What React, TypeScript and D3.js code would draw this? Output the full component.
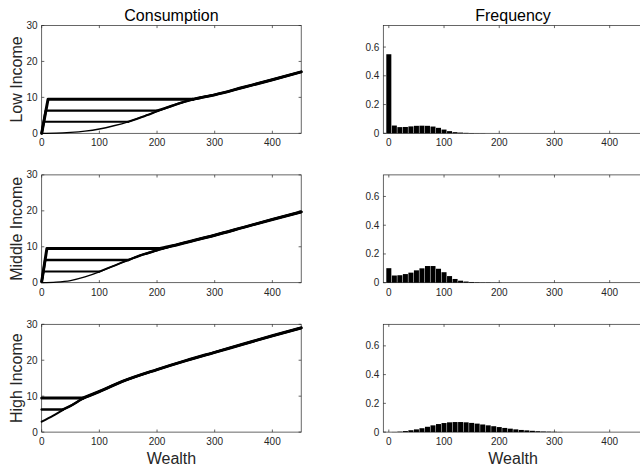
import React from 'react';
import * as d3 from 'd3';

const rowLabels = ['Low Income', 'Middle Income', 'High Income'];
const wealthTicks = [0, 100, 200, 300, 400];
const consTicks = [0, 10, 20, 30];
const freqTicks = [0, 0.2, 0.4, 0.6];

// consumption: smooth policy curve + flat segments that merge into it
const lowCurve = [[0, 0], [25, 0.05], [50, 0.25], [75, 0.6], [100, 1.2], [125, 2.1], [150, 3.2], [175, 4.6], [200, 6.1], [225, 7.6], [250, 8.9], [275, 9.9], [300, 10.7], [350, 12.8], [400, 14.9], [450, 17.1]];
const lowOrigin = [0, 0, 0];
const lowKinks = [3.5, 7, 11];
const lowLevels = [3.2, 6.3, 9.5];
const lowFlatEnds = [150, 200, 262];

const midCurve = [[0, 0], [25, 0.15], [50, 0.6], [75, 1.6], [100, 3.0], [125, 4.7], [150, 6.3], [175, 7.8], [200, 9.0], [225, 10.2], [250, 11.2], [300, 13.2], [350, 15.4], [400, 17.6], [450, 19.7]];
const midOrigin = [0.3, 0.3, 0.3];
const midKinks = [3, 6, 9];
const midLevels = [3.1, 6.3, 9.5];
const midFlatEnds = [100, 150, 205];

const highCurve = [[0, 2.9], [20, 4.6], [35, 6.0], [50, 7.3], [70, 9.2], [100, 11.3], [140, 14.1], [200, 17.4], [250, 19.9], [300, 22.2], [350, 24.5], [400, 26.8], [450, 29.0]];
const highOrigin = [6.3, 9.5];
const highKinks = [0, 0];
const highLevels = [6.3, 9.5];
const highFlatEnds = [37, 72];

// wealth distribution, bins of width 10 centred at 0, 10, 20, ...
const binWidth = 10;
const lowFreq = [0.55, 0.054, 0.043, 0.044, 0.048, 0.052, 0.053, 0.052, 0.047, 0.038, 0.026, 0.015, 0.008, 0.005, 0.003, 0.002, 0.001, 0.001];
const midFreq = [0.101, 0.05, 0.052, 0.06, 0.07, 0.086, 0.1, 0.116, 0.116, 0.097, 0.073, 0.046, 0.026, 0.014, 0.008, 0.005, 0.003, 0.002, 0.002, 0.001, 0.001];
const highFreq = [0, 0.001, 0.003, 0.007, 0.013, 0.019, 0.027, 0.037, 0.047, 0.056, 0.063, 0.068, 0.07, 0.07, 0.068, 0.064, 0.059, 0.053, 0.047, 0.041, 0.035, 0.029, 0.024, 0.019, 0.015, 0.012, 0.009, 0.006, 0.004, 0.003, 0.002, 0.001];

const rows = [
  { curve: lowCurve, origin: lowOrigin, kinks: lowKinks, levels: lowLevels, ends: lowFlatEnds, freq: lowFreq },
  { curve: midCurve, origin: midOrigin, kinks: midKinks, levels: midLevels, ends: midFlatEnds, freq: midFreq },
  { curve: highCurve, origin: highOrigin, kinks: highKinks, levels: highLevels, ends: highFlatEnds, freq: highFreq },
];

const W = 640;
const H = 468;
const leftX = 41.7;
const rightX = 383.3;
const plotW = 259.5;
const plotH = 107.8;
const rowTop = (i: number) => 25.5 + i * 149.4;
const tickLen = 2.6;
const axisColor = '#262626';
const font = '"Liberation Sans", Arial, Helvetica, sans-serif';

// each flat line: straight part (origin -> kink -> flat end), then joins the curve
function buildLines(r: any) {
  const lines: { straight: number[][]; smooth: number[][] }[] = [{ straight: [], smooth: r.curve }];
  r.levels.forEach((lv: number, k: number) => {
    const straight = [[0, r.origin[k]], [r.kinks[k], lv], [r.ends[k], lv]];
    const smooth = [[r.ends[k], lv]];
    r.curve.forEach((p: number[]) => { if (p[0] > r.ends[k]) smooth.push(p); });
    lines.push({ straight, smooth });
  });
  return lines;
}

const Axes = ({ x0, y0, xs, ys, xt, yt, fmt }: any) => {
  const x1 = x0 + plotW;
  const y1 = y0 + plotH;
  return (
    <g stroke={axisColor} strokeWidth={0.7} fill="none">
      <rect x={x0} y={y0} width={plotW} height={plotH} />
      {xt.map((t: number) => (
        <g key={'x' + t}>
          <line x1={xs(t)} x2={xs(t)} y1={y1} y2={y1 - tickLen} />
          <line x1={xs(t)} x2={xs(t)} y1={y0} y2={y0 + tickLen} />
        </g>
      ))}
      {yt.map((t: number) => (
        <g key={'y' + t}>
          <line x1={x0} x2={x0 + tickLen} y1={ys(t)} y2={ys(t)} />
          <line x1={x1} x2={x1 - tickLen} y1={ys(t)} y2={ys(t)} />
        </g>
      ))}
      <g stroke="none" fill={axisColor} fontSize={10} fontFamily={font}>
        {xt.map((t: number) => (
          <text key={'xl' + t} x={xs(t)} y={y1 + 12.8} textAnchor="middle">{t}</text>
        ))}
        {yt.map((t: number) => (
          <text key={'yl' + t} x={x0 - 4} y={ys(t)} dy="0.35em" textAnchor="end">{fmt(t)}</text>
        ))}
      </g>
    </g>
  );
};

const lineWidths = [1.3, 2, 2.4, 3];

export default function App() {
  return (
    <svg width={W} height={H} style={{ position: 'absolute', left: 0, top: 0, background: '#fff' }}>
      <rect width={W} height={H} fill="#fff" />
      {rows.map((r, i) => {
        const y0 = rowTop(i);
        const xs = d3.scaleLinear().domain([0, 450]).range([leftX, leftX + plotW]);
        const ys = d3.scaleLinear().domain([0, 30]).range([y0 + plotH, y0]);
        const xf = d3.scaleLinear().domain([-10, 460]).range([rightX, rightX + plotW]);
        const yf = d3.scaleLinear().domain([0, 0.75]).range([y0 + plotH, y0]);
        const straightLine = d3.line<number[]>().x(d => xs(d[0])).y(d => ys(d[1]));
        const smoothLine = d3.line<number[]>().x(d => xs(d[0])).y(d => ys(d[1])).curve(d3.curveMonotoneX);
        const lines = buildLines(r);
        const bw = xf(binWidth) - xf(0);
        return (
          <g key={i}>
            <Axes x0={leftX} y0={y0} xs={xs} ys={ys} xt={wealthTicks} yt={consTicks} fmt={(t: number) => String(t)} />
            <g fill="none" stroke="#000" strokeLinejoin="round" strokeLinecap="round">
              {lines.map((ln, k) => {
                const sw = lineWidths[k + (4 - lines.length)];
                return (
                  <g key={k} strokeWidth={sw}>
                    {ln.straight.length > 0 && <path d={straightLine(ln.straight) || ''} />}
                    <path d={smoothLine(ln.smooth) || ''} />
                  </g>
                );
              })}
            </g>
            <Axes x0={rightX} y0={y0} xs={xf} ys={yf} xt={wealthTicks} yt={freqTicks} fmt={d3.format('.1~f')} />
            <g fill="#000">
              {r.freq.map((v, k) => (
                <rect key={k} x={xf(k * binWidth) - bw / 2 + 0.25} width={bw - 0.5}
                  y={yf(v)} height={yf(0) - yf(v)} />
              ))}
            </g>
            <text transform={`translate(21.5,${y0 + plotH / 2}) rotate(-90)`} textAnchor="middle"
              fontSize={16} fontFamily={font} fill={axisColor}>{rowLabels[i]}</text>
          </g>
        );
      })}
      <g fontSize={16} fontFamily={font} fill="#000" textAnchor="middle">
        <text x={leftX + plotW / 2} y={20.5}>Consumption</text>
        <text x={rightX + plotW / 2} y={20.5}>Frequency</text>
        <text x={leftX + plotW / 2} y={464} fill={axisColor}>Wealth</text>
        <text x={rightX + plotW / 2} y={464} fill={axisColor}>Wealth</text>
      </g>
    </svg>
  );
}
